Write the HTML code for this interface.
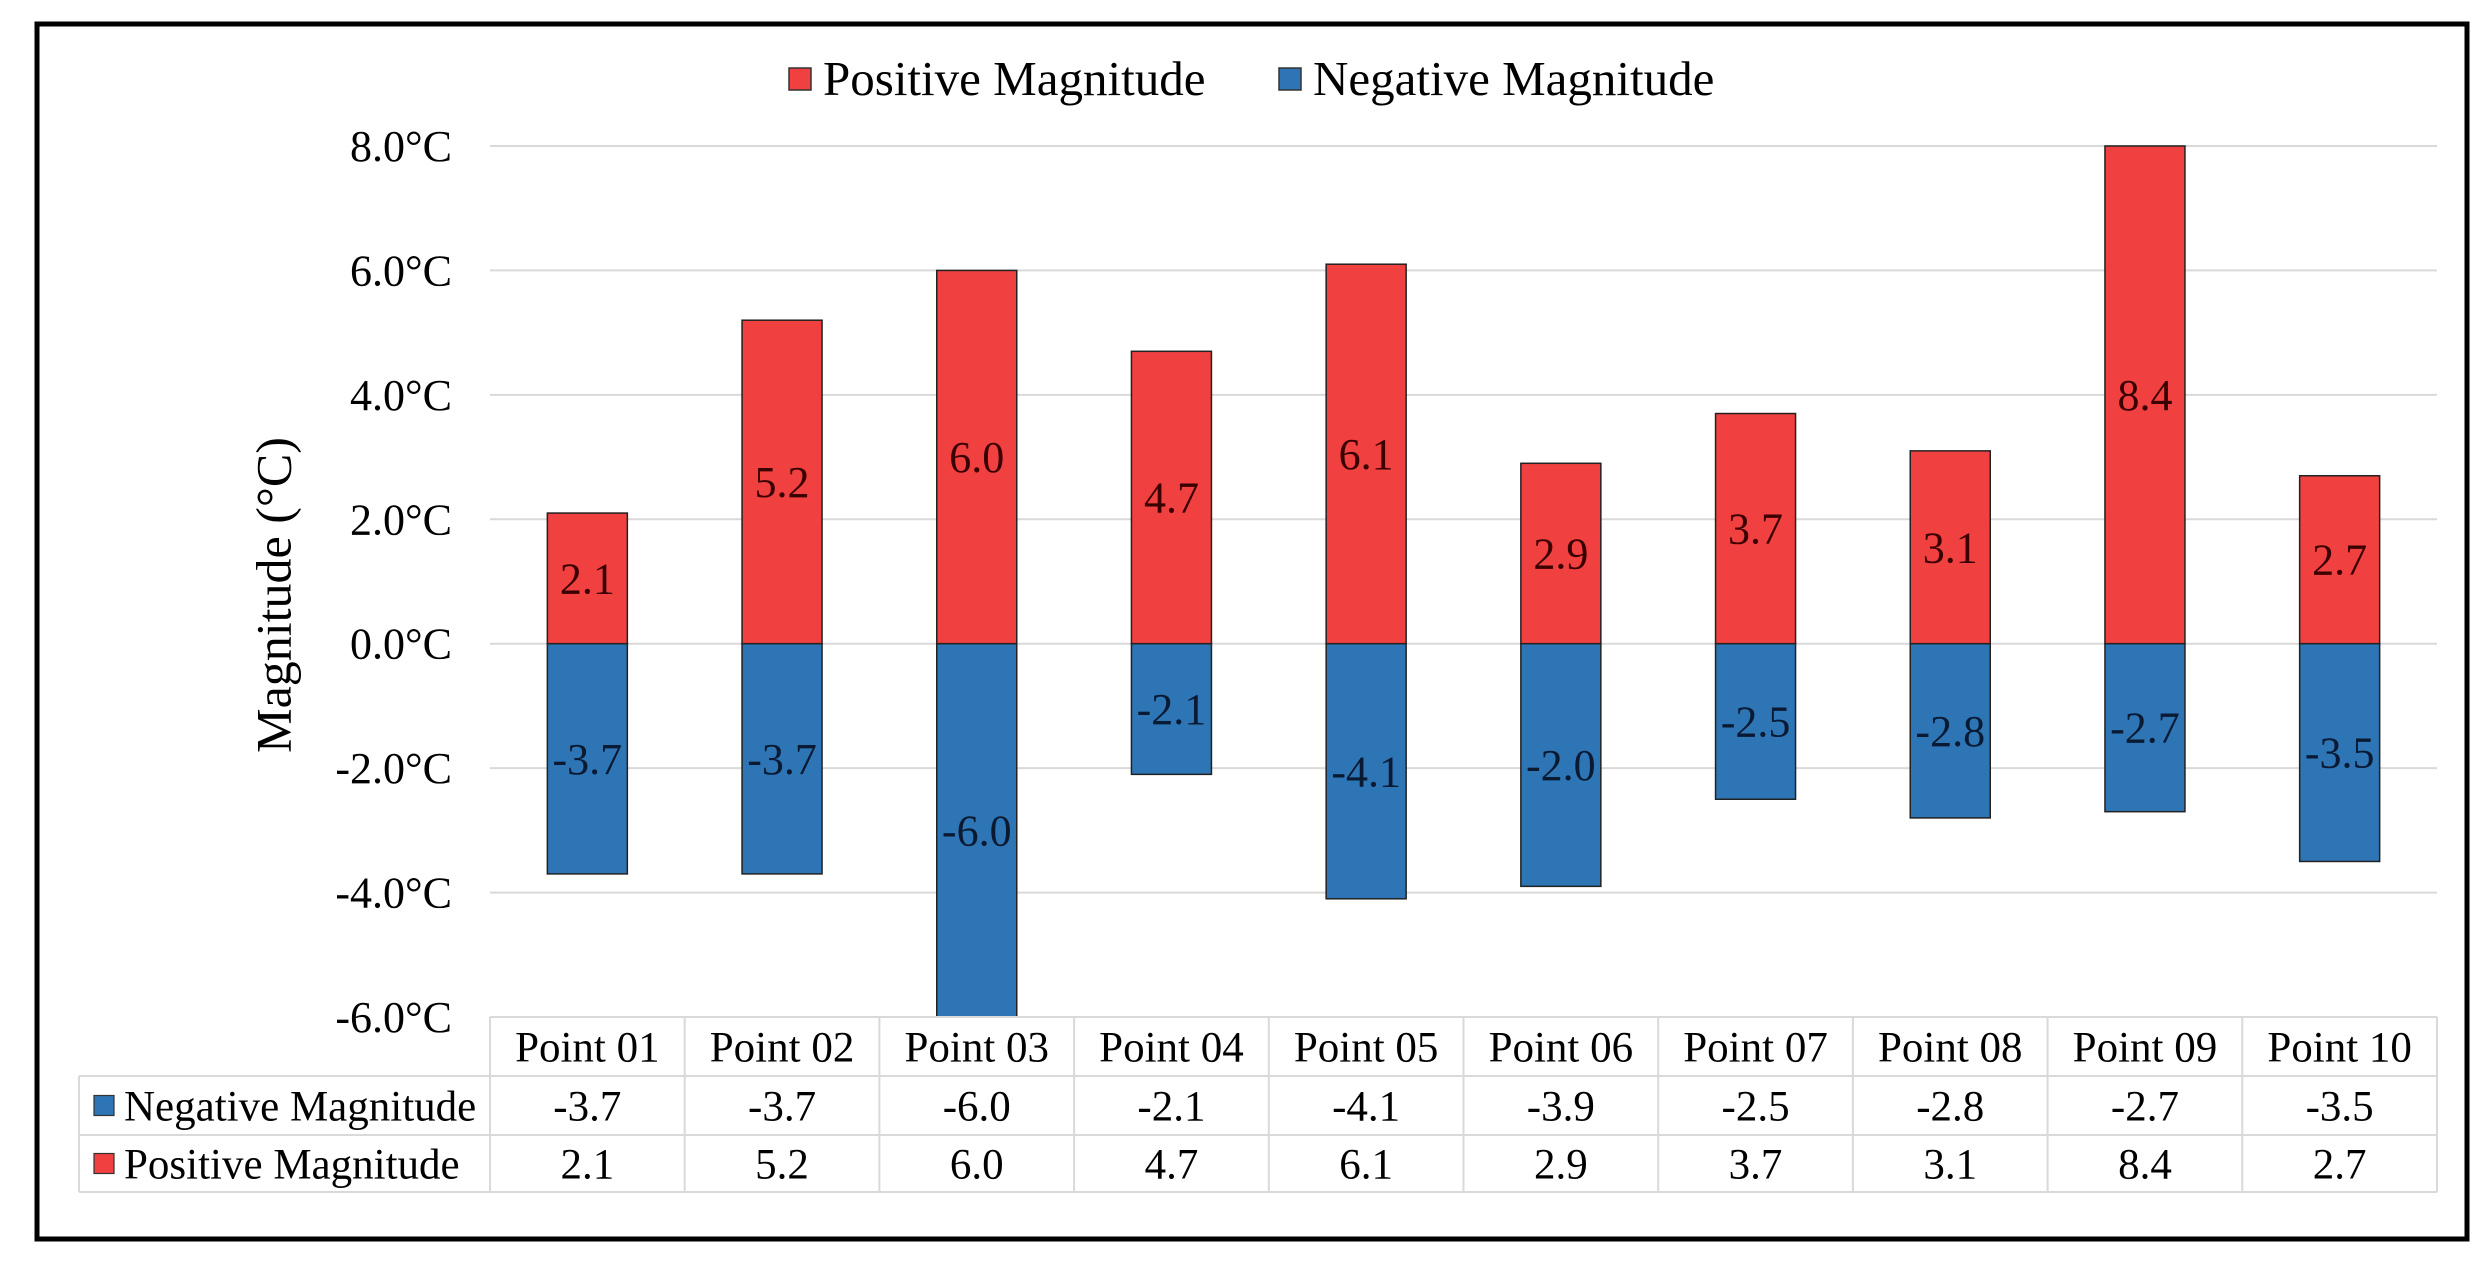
<!DOCTYPE html>
<html><head><meta charset="utf-8"><style>
html,body{margin:0;padding:0;background:#fff;}
svg, svg text{font-family:"Liberation Serif","Times New Roman","DejaVu Serif",serif !important;}
</style></head><body>
<svg id="chart" width="2489" height="1263" viewBox="0 0 2489 1263" font-family="Liberation Serif, Times New Roman, serif">
<rect x="37" y="24" width="2430" height="1215" fill="#fff" stroke="#000" stroke-width="5"/>
<g id="grid"></g>
<g id="bars"></g>
<g id="labels"></g>
<g id="yaxis"></g>
<g id="table"></g>
<text x="279" y="595" font-size="50" text-anchor="middle" dominant-baseline="middle" transform="rotate(-90 279 595)">Magnitude (°C)</text>
<g>
<g>
<rect x="789" y="68" width="22" height="22" fill="#f04040" stroke="#333" stroke-width="1.5"/>
<text x="823" y="95" font-size="49">Positive Magnitude</text>
</g>
<g>
<rect x="1279" y="68" width="22" height="22" fill="#2e75b6" stroke="#333" stroke-width="1.5"/>
<text x="1313" y="95" font-size="49">Negative Magnitude</text>
</g>
</g>
</svg>
<script>
const categories = ["Point 01","Point 02","Point 03","Point 04","Point 05","Point 06","Point 07","Point 08","Point 09","Point 10"];
const negativeValues = [-3.7,-3.7,-6.0,-2.1,-4.1,-3.9,-2.5,-2.8,-2.7,-3.5];
const positiveValues = [2.1,5.2,6.0,4.7,6.1,2.9,3.7,3.1,8.4,2.7];
const negativeLabels = ["-3.7","-3.7","-6.0","-2.1","-4.1","-2.0","-2.5","-2.8","-2.7","-3.5"];
const yTicks = [8,6,4,2,0,-2,-4,-6];

const NS = "http://www.w3.org/2000/svg";
const plotL = 490, plotR = 2437, yTop = 146, yBot = 1017;
const yMin = -6, yMax = 8;
const catW = (plotR - plotL) / categories.length;
const barW = 80;
function yScale(v){ v = Math.max(yMin, Math.min(yMax, v)); return yTop + (yMax - v) / (yMax - yMin) * (yBot - yTop); }
function xCenter(i){ return plotL + catW * (i + 0.5); }
function mk(tag, attrs, parent){ const e = document.createElementNS(NS, tag); for (const k in attrs) e.setAttribute(k, attrs[k]); parent.appendChild(e); return e; }

const grid = document.getElementById('grid');
const yaxis = document.getElementById('yaxis');
yTicks.forEach(t => {
  const y = yScale(t);
  const l = mk('line', {x1: plotL, x2: plotR, y1: y, y2: y, stroke: '#d9d9d9', 'stroke-width': 2}, grid);
  
  
  const tx = mk('text', {x: 452, y: y + 15, 'font-size': 44, 'text-anchor': 'end'}, yaxis);
  tx.textContent = t.toFixed(1) + '°C';
  
  
});

const bars = document.getElementById('bars');
const labels = document.getElementById('labels');
categories.forEach((c, i) => {
  const cx = xCenter(i);
  const y0 = yScale(0);
  const yp = yScale(positiveValues[i]);
  const rp = mk('rect', {x: cx - barW/2, y: yp, width: barW, height: y0 - yp, fill: '#f04040', stroke: '#222', 'stroke-width': 1.5}, bars);
  
  
  const yn = yScale(negativeValues[i]);
  const rn = mk('rect', {x: cx - barW/2, y: y0, width: barW, height: yn - y0, fill: '#2e75b6', stroke: '#222', 'stroke-width': 1.5}, bars);
  
  
  const lp = mk('text', {x: cx, y: (yp + y0) / 2 + 15, 'font-size': 44, 'text-anchor': 'middle', fill: '#3a0000'}, labels);
  lp.textContent = positiveValues[i].toFixed(1);
  
  
  const ln = mk('text', {x: cx, y: (yn + y0) / 2 + 15, 'font-size': 44, 'text-anchor': 'middle', fill: '#0a1a33'}, labels);
  ln.textContent = negativeLabels[i];
  
  
});

const table = document.getElementById('table');
const rows = [1017, 1076, 1135, 1192];
const tabL = 79;
mk('line', {x1: plotL, x2: plotR, y1: rows[0], y2: rows[0], stroke: '#d9d9d9', 'stroke-width': 2}, table);
for (let r = 1; r < 4; r++) {
  const l = mk('line', {x1: tabL, x2: plotR, y1: rows[r], y2: rows[r], stroke: '#d9d9d9', 'stroke-width': 2}, table);
  
  
}
mk('line', {x1: tabL, x2: tabL, y1: rows[1], y2: rows[3], stroke: '#d9d9d9', 'stroke-width': 2}, table);
for (let i = 0; i <= categories.length; i++) {
  const x = plotL + catW * i;
  const l = mk('line', {x1: x, x2: x, y1: rows[0], y2: rows[3], stroke: '#d9d9d9', 'stroke-width': 2}, table);
  
  
}
[["Negative Magnitude", '#2e75b6', 1], ["Positive Magnitude", '#f04040', 2]].forEach(([name, col, r]) => {
  const mid = (rows[r] + rows[r+1]) / 2;
  const sw = mk('rect', {x: 94, y: mid - 10, width: 20, height: 20, fill: col, stroke: '#333', 'stroke-width': 1.2}, table);
  
  
  const t = mk('text', {x: 124, y: mid + 15, 'font-size': 43}, table);
  t.textContent = name;
  
  
});
categories.forEach((c, i) => {
  const cx = xCenter(i);
  const h = mk('text', {x: cx, y: (rows[0] + rows[1]) / 2 + 15, 'font-size': 43, 'text-anchor': 'middle'}, table);
  h.textContent = c;
  
  
  const n = mk('text', {x: cx, y: (rows[1] + rows[2]) / 2 + 15, 'font-size': 43, 'text-anchor': 'middle'}, table);
  n.textContent = negativeValues[i].toFixed(1);
  
  
  const p = mk('text', {x: cx, y: (rows[2] + rows[3]) / 2 + 15, 'font-size': 43, 'text-anchor': 'middle'}, table);
  p.textContent = positiveValues[i].toFixed(1);
  
  
});
</script>
</body></html>
